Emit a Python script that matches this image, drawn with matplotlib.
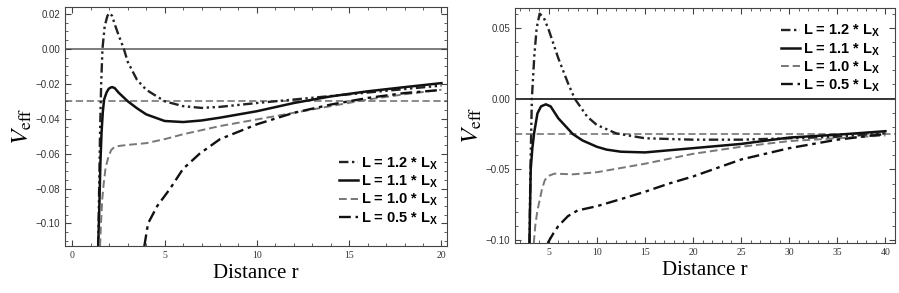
import matplotlib
matplotlib.use('Agg')
import matplotlib.pyplot as plt
from matplotlib.ticker import MultipleLocator, FuncFormatter

plt.rcParams['mathtext.fontset'] = 'custom'
plt.rcParams['mathtext.rm'] = 'Liberation Sans:bold'
plt.rcParams['mathtext.bf'] = 'Liberation Sans:bold'

# --- left panel ---
r12_a = [1.40, 1.45, 1.50, 1.56, 1.63, 1.75, 1.90, 2.00, 2.15, 2.30, 2.50, 2.79, 3.0, 3.5, 4.0, 5.0, 6.0, 7.0, 8.0, 10, 12, 14, 16, 18, 20]
v12_a = [-0.113, -0.080, -0.048, -0.020, 0.0, 0.013, 0.019, 0.0205, 0.019, 0.014, 0.008, 0.0, -0.0074, -0.0177, -0.0234, -0.030, -0.0328, -0.0338, -0.0332, -0.031, -0.029, -0.027, -0.025, -0.023, -0.021]
r11_a = [1.40, 1.45, 1.52, 1.58, 1.65, 1.72, 1.85, 1.97, 2.10, 2.17, 2.30, 2.50, 2.75, 3.0, 3.5, 4, 5, 6, 7, 8, 10, 12, 14, 16, 18, 20]
v11_a = [-0.113, -0.095, -0.065, -0.048, -0.036, -0.029, -0.025, -0.0228, -0.0220, -0.0219, -0.0225, -0.025, -0.0275, -0.030, -0.034, -0.0375, -0.0413, -0.0419, -0.041, -0.0394, -0.0357, -0.031, -0.0272, -0.0243, -0.0219, -0.0196]
r10_a = [1.50, 1.55, 1.62, 1.70, 1.80, 1.95, 2.10, 2.30, 2.60, 3, 4, 5, 6, 8, 10, 12, 14, 16, 18, 20]
v10_a = [-0.113, -0.100, -0.086, -0.077, -0.068, -0.062, -0.058, -0.0560, -0.0555, -0.055, -0.054, -0.0517, -0.0489, -0.0442, -0.0404, -0.0366, -0.0328, -0.029, -0.026, -0.0234]
r05_a = [3.9, 4.1, 4.6, 5.3, 6.0, 6.9, 8, 10, 12, 14, 16, 18, 20]
v05_a = [-0.113, -0.100, -0.090, -0.080, -0.0687, -0.060, -0.0517, -0.0432, -0.0366, -0.0319, -0.0281, -0.0253, -0.0235]
ref_a = -0.03

# --- right panel ---
r12_b = [3.0, 3.1, 3.25, 3.5, 3.75, 4.06, 4.5, 5, 6, 7, 7.7, 9, 10, 12, 13, 15, 20, 25, 30, 35, 40]
v12_b = [-0.102, -0.05, 0.0, 0.03, 0.05, 0.060, 0.057, 0.0486, 0.0285, 0.011, 0.0, -0.0127, -0.0186, -0.0245, -0.0257, -0.028, -0.029, -0.029, -0.028, -0.027, -0.0245]
r11_b = [3.0, 3.13, 3.3, 3.48, 3.83, 4.2, 4.7, 5.2, 6, 7.5, 8.5, 10, 11, 12.5, 15, 20, 25, 30, 35, 40]
v11_b = [-0.102, -0.05, -0.035, -0.0245, -0.0104, -0.0055, -0.004, -0.0055, -0.0139, -0.025, -0.0295, -0.034, -0.036, -0.0375, -0.038, -0.035, -0.032, -0.0275, -0.0255, -0.023]
r10_b = [3.45, 3.6, 3.8, 4.06, 4.3, 4.6, 5.0, 5.6, 7.5, 10, 12.5, 15, 17.5, 20, 25, 30, 35, 40]
v10_b = [-0.102, -0.090, -0.080, -0.0717, -0.064, -0.0575, -0.0545, -0.053, -0.0535, -0.052, -0.049, -0.046, -0.0425, -0.039, -0.034, -0.030, -0.028, -0.026]
r05_b = [4.9, 5.5, 6, 7, 8, 10, 12.5, 15, 17.5, 20, 25, 30, 35, 40]
v05_b = [-0.102, -0.095, -0.090, -0.083, -0.079, -0.076, -0.071, -0.0658, -0.060, -0.055, -0.043, -0.035, -0.029, -0.025]
ref_b = -0.025

labels = [r'L = 1.2 * L$_\mathbf{X}$', r'L = 1.1 * L$_\mathbf{X}$',
          r'L = 1.0 * L$_\mathbf{X}$', r'L = 0.5 * L$_\mathbf{X}$']

fig = plt.figure(figsize=(8.99, 2.93), dpi=100)
ax1 = fig.add_axes([0.0723, 0.160, 0.4249, 0.816])
ax2 = fig.add_axes([0.5729, 0.1706, 0.4227, 0.802])

yfmt = FuncFormatter(lambda v, p: ('%.2f' % (0.0 if abs(v) < 1e-9 else v)).replace('-', '\u2212'))


def draw(ax, data, ref, zero_col):
    (ra, va), (rb, vb), (rc, vc), (rd, vd) = data
    ax.axhline(0, color=zero_col, lw=1.2, zorder=1)
    ax.axhline(ref, color='#808080', lw=1.3, dashes=(4, 2), zorder=1)
    l1, = ax.plot(ra, va, color='#222222', lw=1.7, dashes=(4, 1.5, 1, 1.5, 1, 1.5))
    l2, = ax.plot(rb, vb, color='#111111', lw=1.8)
    l3, = ax.plot(rc, vc, color='#777777', lw=1.4, dashes=(4, 2))
    l4, = ax.plot(rd, vd, color='#111111', lw=1.7, dashes=(5, 2, 1.5, 2))
    for s in ax.spines.values():
        s.set_color('#444444')
    ax.tick_params(which='both', direction='in', top=True, right=True, color='#444444')
    ax.tick_params(which='major', length=4, labelsize=7, labelcolor='#333333')
    ax.tick_params(which='minor', length=2)
    ax.xaxis.set_major_locator(MultipleLocator(5))
    ax.xaxis.set_minor_locator(MultipleLocator(1))
    ax.yaxis.set_major_formatter(yfmt)
    ax.set_xlabel('Distance r', family='Liberation Serif', fontsize=15, labelpad=3)
    ax.set_ylabel(r'$V_{\mathrm{eff}}$', fontsize=18, math_fontfamily='stix', labelpad=1)
    return [l1, l2, l3, l4]


def fonts(ax):
    for t in ax.get_xticklabels():
        t.set_family('Liberation Serif')
    for t in ax.get_yticklabels():
        t.set_family('Liberation Sans')


h = draw(ax1, [(r12_a, v12_a), (r11_a, v11_a), (r10_a, v10_a), (r05_a, v05_a)], ref_a, '#666666')
ax1.set_xlim(-0.4, 20.3)
ax1.set_ylim(-0.113, 0.024)
ax1.yaxis.set_major_locator(MultipleLocator(0.02))
ax1.yaxis.set_minor_locator(MultipleLocator(0.005))
fonts(ax1)
ax1.legend(h, labels, loc='lower right', bbox_to_anchor=(1.0, 0.045), frameon=False,
           prop={'family': 'Liberation Sans', 'weight': 'bold', 'size': 10.5},
           handlelength=1.3, handletextpad=0.2, labelspacing=0.1, borderaxespad=0.2)

h = draw(ax2, [(r12_b, v12_b), (r11_b, v11_b), (r10_b, v10_b), (r05_b, v05_b)], ref_b, '#111111')
ax2.set_xlim(1.5, 41)
ax2.set_ylim(-0.102, 0.064)
ax2.yaxis.set_major_locator(MultipleLocator(0.05))
ax2.yaxis.set_minor_locator(MultipleLocator(0.01))
fonts(ax2)
ax2.legend(h, labels, loc='upper right', bbox_to_anchor=(0.985, 0.975), frameon=False,
           prop={'family': 'Liberation Sans', 'weight': 'bold', 'size': 10.5},
           handlelength=1.3, handletextpad=0.2, labelspacing=0.1, borderaxespad=0.2)

fig.savefig('out.png', dpi=100)
